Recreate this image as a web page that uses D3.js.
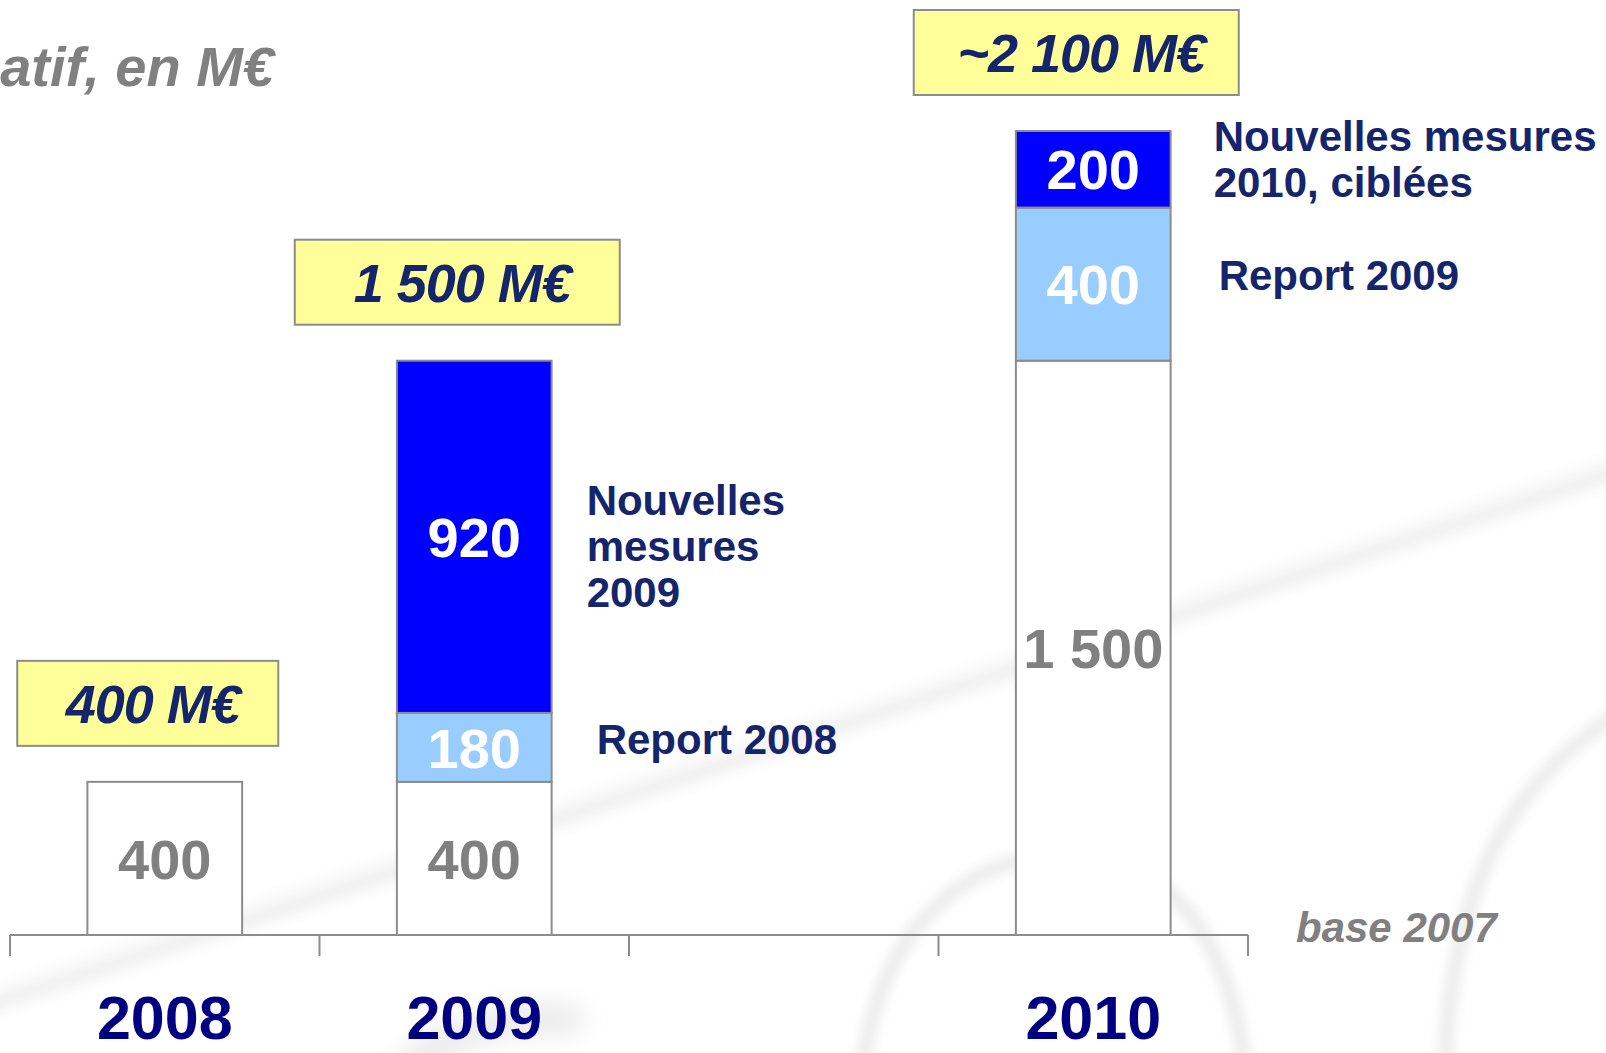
<!DOCTYPE html>
<html>
<head>
<meta charset="utf-8">
<script src="https://cdn.jsdelivr.net/npm/d3@7"></script>
<style>
  html, body { margin: 0; padding: 0; background: #ffffff; overflow: hidden; }
  svg { display: block; }
  text { font-family: "Liberation Sans", Arial, Helvetica, sans-serif; font-weight: bold; }
</style>
</head>
<body>
<svg id="chart" width="1606" height="1053"></svg>
<script>
// ---- data ----
const years = ["2008", "2009", "", "2010"];          // "" keeps an empty slot before 2010
const baseValues = [400, 400, 0, 1500];
const reportValues = [0, 180, 0, 400];
const newMeasureValues = [0, 920, 0, 200];
const totalLabels = ["400 M€", "1 500 M€", "", "~2 100 M€"];
const seriesKeys = ["base", "report", "nouvelles"];
const note2009New = ["Nouvelles", "mesures", "2009"];
const note2009Report = ["Report 2008"];
const note2010New = ["Nouvelles mesures", "2010, ciblées"];
const note2010Report = ["Report 2009"];
const unitTitle = "atif, en M€";
const baseNote = "base 2007";

// ---- layout & styles ----
const W = 1606, H = 1053;
const axisY = 935;
const colors = { base: "#ffffff", report: "#99ccff", nouvelles: "#0000ff" };
const labelColors = { base: "#808080", report: "#ffffff", nouvelles: "#ffffff" };
const navy = "#14256b";
const grey = "#808080";
const edge = "#8c8c8c";

const svg = d3.select("#chart");
const defs = svg.append("defs");
function blur(id, sd) {
  defs.append("filter").attr("id", id)
    .attr("filterUnits", "userSpaceOnUse")
    .attr("x", -200).attr("y", -200).attr("width", W + 400).attr("height", H + 400)
    .append("feGaussianBlur").attr("stdDeviation", sd);
}
blur("soft", 7);
blur("softer", 14);

// faint decorative swooshes in the background
const deco = svg.append("g").attr("class", "backdrop");
deco.append("path").attr("d", "M-40,1012 C400,870 900,700 1660,455")
  .attr("fill", "none").attr("stroke", "#f0f0f0").attr("stroke-width", 22).attr("filter", "url(#soft)");
deco.append("path").attr("d", "M-40,1000 C400,858 900,688 1660,443")
  .attr("fill", "none").attr("stroke", "#ffffff").attr("stroke-width", 6).attr("filter", "url(#soft)");
deco.append("path").attr("d", "M862,1070 C880,930 960,860 1060,855 C1160,850 1230,930 1245,1070")
  .attr("fill", "none").attr("stroke", "#e2e2e2").attr("stroke-width", 10).attr("filter", "url(#soft)");
deco.append("path").attr("d", "M1445,1070 C1450,900 1500,780 1640,700")
  .attr("fill", "none").attr("stroke", "#e2e2e2").attr("stroke-width", 10).attr("filter", "url(#soft)");
deco.append("path").attr("d", "M400,1080 C440,1030 500,1015 580,1020")
  .attr("fill", "none").attr("stroke", "#dcdcdc").attr("stroke-width", 18).attr("filter", "url(#softer)");

// ---- scales ----
const x = d3.scaleBand().domain(years).range([10, 1248]).padding(0);
const barW = x.bandwidth() * 0.5;
const barX = d => x(d) + (x.bandwidth() - barW) / 2;
const y = d3.scaleLinear().domain([0, 2100]).range([axisY, 131]);
const fmt = d3.formatLocale({ decimal: ",", thousands: " ", grouping: [3], currency: ["", " €"] }).format(",d");

const rows = years.map((yr, i) => ({
  year: yr, base: baseValues[i], report: reportValues[i], nouvelles: newMeasureValues[i], total: totalLabels[i]
}));
const stacked = d3.stack().keys(seriesKeys)(rows);

// ---- bars ----
const barG = svg.append("g").attr("class", "bars");
stacked.forEach(series => {
  const key = series.key;
  const segs = series.map((s, i) => ({ key, y0: s[0], y1: s[1], year: rows[i].year, value: s[1] - s[0] }))
    .filter(s => s.year !== "" && s.value > 0);
  barG.selectAll(null).data(segs).join("rect")
    .attr("x", d => barX(d.year))
    .attr("y", d => y(d.y1))
    .attr("width", barW)
    .attr("height", d => y(d.y0) - y(d.y1))
    .attr("fill", colors[key])
    .attr("stroke", edge)
    .attr("stroke-width", 2);
  barG.selectAll(null).data(segs).join("text")
    .attr("x", d => barX(d.year) + barW / 2)
    .attr("y", d => (y(d.y0) + y(d.y1)) / 2)
    .attr("dy", "0.36em")
    .attr("text-anchor", "middle")
    .attr("font-size", 56)
    .attr("fill", labelColors[key])
    .text(d => fmt(d.value));
});

// ---- axis: baseline with ticks at the band edges ----
const axisG = svg.append("g").attr("class", "axis");
const edges = years.map(d => x(d)).concat([x.range()[1]]);
axisG.append("line").attr("x1", x.range()[0]).attr("x2", x.range()[1])
  .attr("y1", axisY).attr("y2", axisY).attr("stroke", edge).attr("stroke-width", 2);
axisG.selectAll("line.tick").data(edges).join("line").attr("class", "tick")
  .attr("x1", d => d).attr("x2", d => d).attr("y1", axisY).attr("y2", axisY + 21)
  .attr("stroke", edge).attr("stroke-width", 2);
axisG.selectAll("text.year").data(years.filter(d => d !== "")).join("text").attr("class", "year")
  .attr("x", d => x(d) + x.bandwidth() / 2)
  .attr("y", 1039)
  .attr("text-anchor", "middle")
  .attr("font-size", 61)
  .attr("fill", "#000080")
  .text(d => d);

// ---- total call-outs ----
const calloutWidth = { "2008": 261, "2009": 325, "2010": 325 };
const calloutH = 85;
const callG = svg.append("g").attr("class", "callouts");
const totals = rows.filter(r => r.year !== "");
totals.forEach(r => {
  const sum = r.base + r.report + r.nouvelles;
  const cx = barX(r.year) + barW / 2 - 17;
  const bottom = y(sum) - 36;
  const w = calloutWidth[r.year];
  callG.append("rect")
    .attr("x", cx - w / 2).attr("y", bottom - calloutH)
    .attr("width", w).attr("height", calloutH)
    .attr("fill", "#ffff99").attr("stroke", edge).attr("stroke-width", 2);
  callG.append("text")
    .attr("x", cx + 5).attr("y", bottom - calloutH / 2)
    .attr("dy", "0.36em")
    .attr("text-anchor", "middle")
    .attr("font-size", 54)
    .attr("font-style", "italic")
    .attr("letter-spacing", -1)
    .attr("fill", navy)
    .text(r.total);
});

// ---- series notes beside the bars ----
const notes = [
  { year: "2009", key: "nouvelles", lines: note2009New, dx: 35, dy: 9 },
  { year: "2009", key: "report", lines: note2009Report, dx: 45, dy: -8 },
  { year: "2010", key: "nouvelles", lines: note2010New, dx: 43, dy: -10 },
  { year: "2010", key: "report", lines: note2010Report, dx: 48, dy: -9 }
];
const lineGap = 46;
const noteG = svg.append("g").attr("class", "notes");
notes.forEach(n => {
  const s = stacked.find(ss => ss.key === n.key)[years.indexOf(n.year)];
  const mid = (y(s[0]) + y(s[1])) / 2;
  const first = mid - (n.lines.length - 1) * lineGap / 2 + 15 + n.dy;
  const t = noteG.append("text")
    .attr("x", barX(n.year) + barW + n.dx)
    .attr("y", first)
    .attr("font-size", 42)
    .attr("fill", navy);
  n.lines.forEach((ln, i) => {
    t.append("tspan").attr("x", barX(n.year) + barW + n.dx).attr("dy", i === 0 ? 0 : lineGap).text(ln);
  });
});

// ---- unit title and base note ----
svg.append("text").attr("x", 274).attr("y", 86)
  .attr("text-anchor", "end").attr("font-size", 56).attr("font-style", "italic")
  .attr("fill", grey).text(unitTitle);
svg.append("text").attr("x", 1296).attr("y", 942)
  .attr("font-size", 42).attr("font-style", "italic")
  .attr("fill", grey).text(baseNote);
</script>
</body>
</html>
